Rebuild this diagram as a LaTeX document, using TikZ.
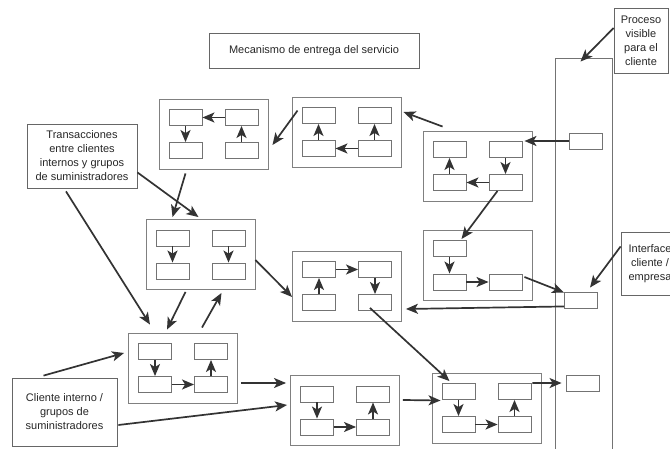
\documentclass[tikz,border=0pt]{standalone}
\usepackage{fontspec}
\setmainfont{Liberation Sans}
\usetikzlibrary{arrows.meta}
\tikzstyle{arrow} = [line width=1.7pt, draw=black!80, -{Stealth[length=12pt,width=10pt,inset=3pt]}]
\tikzstyle{stage} = [draw=black!50, line width=0.9pt, minimum width=109pt, minimum height=70pt, inner sep=0pt]
\tikzstyle{task} = [draw=black!55, line width=0.9pt, minimum width=33pt, minimum height=16pt, inner sep=0pt]
\tikzstyle{note} = [draw=black!60, line width=0.8pt, align=center, inner sep=0pt, text=black!85,
  font=\fontsize{11}{14}\selectfont]

\begin{document}
\begin{tikzpicture}[x=1pt, y=-1pt]
    \useasboundingbox (0,0) rectangle (670,449);

    % Line of visibility
    \node[draw=black!55, line width=0.9pt, minimum width=57pt, minimum height=397pt, inner sep=0pt] (Col) at (583.5,256.5) {};
    \node[task] (C1) at (586,141) {};
    \node[task] (C2) at (581,300) {};
    \node[task] (C3) at (582.5,383) {};

    % Stages with their tasks
    \foreach \n/\x/\y in {G1/213.5/134, G2/346.5/132, G3/477.5/166, G5/200.5/254.5,
                          G6/347/286, G7/183/368, G8/486.5/408, G9/345/410.5} {
        \node[stage] (\n) at (\x,\y) {};
        \node[task] (\n a) at (\x-28,\y-16.5) {};
        \node[task] (\n b) at (\x+28,\y-16.5) {};
        \node[task] (\n c) at (\x-28,\y+16.5) {};
        \node[task] (\n d) at (\x+28,\y+16.5) {};
    }
    \node[stage] (G4) at (477.5,265) {};
    \node[task] (G4a) at (449.5,248.5) {};
    \node[task] (G4c) at (449.5,282) {};
    \node[task] (G4d) at (505.5,282) {};

    % Texts
    \node[note, minimum width=210pt, minimum height=35pt] (Mec) at (314,50.5) {Mecanismo de entrega del servicio};
    \node[note, minimum width=110pt, minimum height=64pt] (Trans) at (82,156) {Transacciones\\entre clientes\\internos y grupos\\de suministradores};
    \node[note, minimum width=105pt, minimum height=68pt] (Cli) at (64.5,412) {Cliente interno /\\grupos de\\suministradores};
    \node[note, minimum width=54pt, minimum height=65pt] (Proc) at (641,40.5) {Proceso\\visible\\para el\\cliente};
    \node[note, minimum width=58pt, minimum height=63pt] (Iface) at (650,263.5) {Interface\\cliente /\\empresa};

    % Flows inside stages
    \draw[arrow] (G1b) -- (G1a);
    \draw[arrow] (G1a) -- (G1c);
    \draw[arrow] (G1d) -- (G1b);
    \draw[arrow] (G2c) -- (G2a);
    \draw[arrow] (G2d) -- (G2c);
    \draw[arrow] (G2d) -- (G2b);
    \draw[arrow] (G3b) -- (G3d);
    \draw[arrow] (G3d) -- (G3c);
    \draw[arrow] (G3c) -- (G3a);
    \draw[arrow] (G4a) -- (G4c);
    \draw[arrow] (G4c) -- (G4d);
    \draw[arrow] (G5a) -- (G5c);
    \draw[arrow] (G5b) -- (G5d);
    \draw[arrow] (G6a) -- (G6b);
    \draw[arrow] (G6b) -- (G6d);
    \draw[arrow] (G6c) -- (G6a);
    \foreach \n in {G7, G8, G9} {
        \draw[arrow] (\n a) -- (\n c);
        \draw[arrow] (\n c) -- (\n d);
        \draw[arrow] (\n d) -- (\n b);
    }

    % Flows between stages
    \draw[arrow] (C1.west) -- ([xshift=2pt]C1.west -| G3b.east);
    \draw[arrow] ([xshift=20pt,yshift=4pt]G3.north west) -- ([xshift=2pt,yshift=20pt]G2.east);
    \draw[arrow] ([xshift=6pt,yshift=-14pt]G2.north west) -- ([xshift=4pt,yshift=-11pt]G1.east);
    \draw[arrow] ([xshift=-28pt,yshift=-4pt]G1.south) -- ([xshift=-28pt,yshift=2pt]G5.north);
    \draw[arrow] ([yshift=16pt]Trans.south east) -- ([xshift=-2pt,yshift=2pt]G5.north);
    \draw[arrow] ([xshift=-16pt,yshift=-3pt]Trans.south) -- ([xshift=-33pt,yshift=8pt]G7.north);
    \draw[arrow] ([xshift=-15pt,yshift=-2pt]G5.south) -- ([xshift=-16pt,yshift=3pt]G7.north);
    \draw[arrow] ([xshift=19pt,yshift=5pt]G7.north) -- ([xshift=21pt,yshift=-3pt]G5.south);
    \draw[arrow] ([yshift=-5.5pt]G5.east) -- ([yshift=-11pt]G6.west);
    \draw[arrow] ([xshift=-8pt]G3d.south) -- ([xshift=12pt,yshift=1pt]G4a.north);
    \draw[arrow] ([xshift=2pt,yshift=5pt]G4d.east) -- ([yshift=-1pt]C2.north west);
    \draw[arrow] ([yshift=17pt]Iface.west) -- ([xshift=9pt,yshift=4pt]C2.north);
    \draw[arrow] ([yshift=2pt]C2.south west) -- ([xshift=4pt,yshift=-23pt]G6.east);
    \draw[arrow] ([xshift=-5pt,yshift=3pt]G6d.south) -- ([xshift=-9pt,yshift=2pt]G8a.north);
    \draw[arrow] ([xshift=3pt,yshift=-15pt]G7.east) -- ([xshift=-4pt,yshift=27.5pt]G9.west);
    \draw[arrow] ([xshift=-21pt,yshift=2pt]Cli.north) -- ([xshift=-4pt,yshift=15pt]G7.west);
    \draw[arrow] ([xshift=1pt,yshift=-13pt]Cli.east) -- ([xshift=-3pt,yshift=5.5pt]G9.west);
    \draw[arrow] ([xshift=3pt,yshift=10.5pt]G9.east) -- ([xshift=-1pt,yshift=-9pt]G8a.west);
    \draw[arrow] ([xshift=1pt]G8b.north east) -- ([xshift=-4pt]C3.west);
    \draw[arrow] ([yshift=12.5pt]Proc.west) -- ([xshift=-3pt,yshift=-4pt]Col.north);

\end{tikzpicture}
\end{document}
